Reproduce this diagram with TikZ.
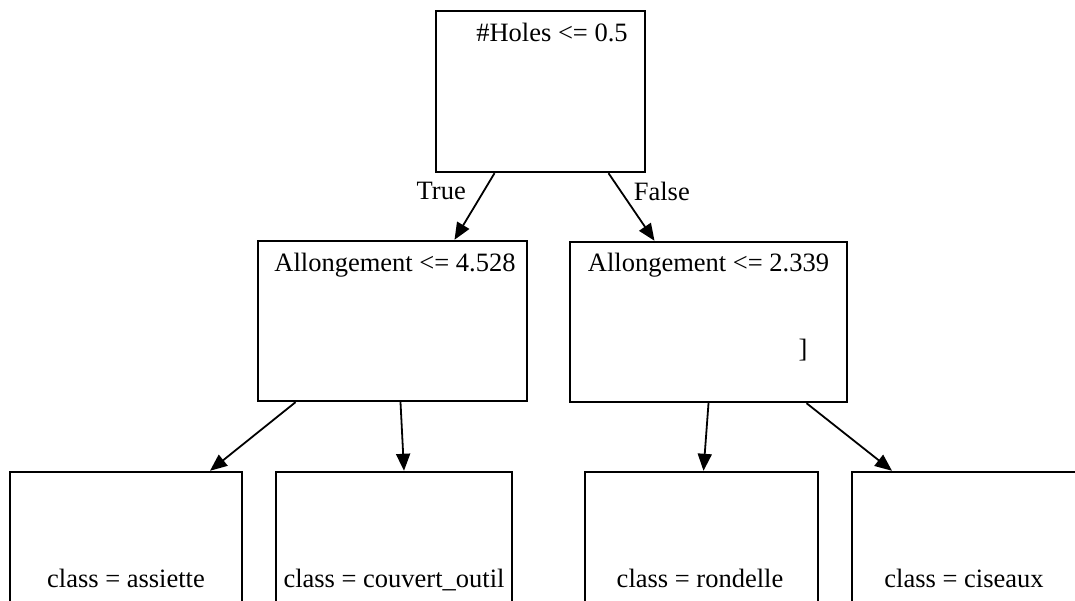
\documentclass[tikz,border=0pt]{standalone}
\usepackage{fontspec}
\setmainfont{Liberation Serif}
\usetikzlibrary{arrows.meta}

\tikzset{
  box/.style={draw, line width=2.4pt, inner sep=0pt, minimum height=160pt},
  txt/.style={font=\fontsize{26.5}{30}\selectfont, inner sep=0pt, anchor=base},
  edge/.style={line width=1.8pt, -{Triangle[length=17pt,width=14pt]}},
  lbl/.style={font=\fontsize{26.5}{30}\selectfont, inner sep=0pt}
}

\begin{document}
\begin{tikzpicture}[x=1pt,y=1pt]
\useasboundingbox (0,0) rectangle (1075,601);
\clip (0,0) rectangle (1075,601);
% boxes
\node[box, minimum width=209pt, minimum height=161pt] (root) at (540.5,509.5) {};
\node[box, minimum width=269pt] (midL) at (392.5,280) {};
\node[box, minimum width=277pt] (midR) at (708.5,279) {};
\node[box, minimum width=232pt] (leafA) at (126,49) {};
\node[box, minimum width=236pt] (leafB) at (394,49) {};
\node[box, minimum width=233pt] (leafC) at (701.5,49) {};
\node[box, minimum width=232pt] (leafD) at (968,49) {};
% texts
\node[txt] (tRoot) at (552,559) {\#Holes <= 0.5};
\node[txt] (tMidL) at (395,329) {Allongement <= 4.528};
\node[txt] (tMidR) at (708.5,329) {Allongement <= 2.339};
\node[txt] (tBr) at (803,243) {]};
\node[txt] (tA) at (126,13) {class = assiette};
\node[txt] (tB) at (394,13) {class = couvert\_outil};
\node[txt] (tC) at (700,13) {class = rondelle};
\node[txt] (tD) at (964,13) {class = ciseaux};
% edges
\draw[edge] ([xshift=-46]root.south) -- ([xshift=62]midL.north)
  node[lbl, pos=0.27, anchor=east, xshift=-17pt] {True};
\draw[edge] ([xshift=68]root.south) -- ([xshift=-54]midR.north)
  node[lbl, pos=0.27, anchor=west, xshift=12pt] {False};
\draw[edge] ([xshift=-97]midL.south) -- ([xshift=84]leafA.north);
\draw[edge] ([xshift=8]midL.south) -- ([xshift=10]leafB.north);
\draw[edge] ([xshift=0]midR.south) -- ([xshift=2]leafC.north);
\draw[edge] ([xshift=98]midR.south) -- ([xshift=-76]leafD.north);
\end{tikzpicture}
\end{document}
